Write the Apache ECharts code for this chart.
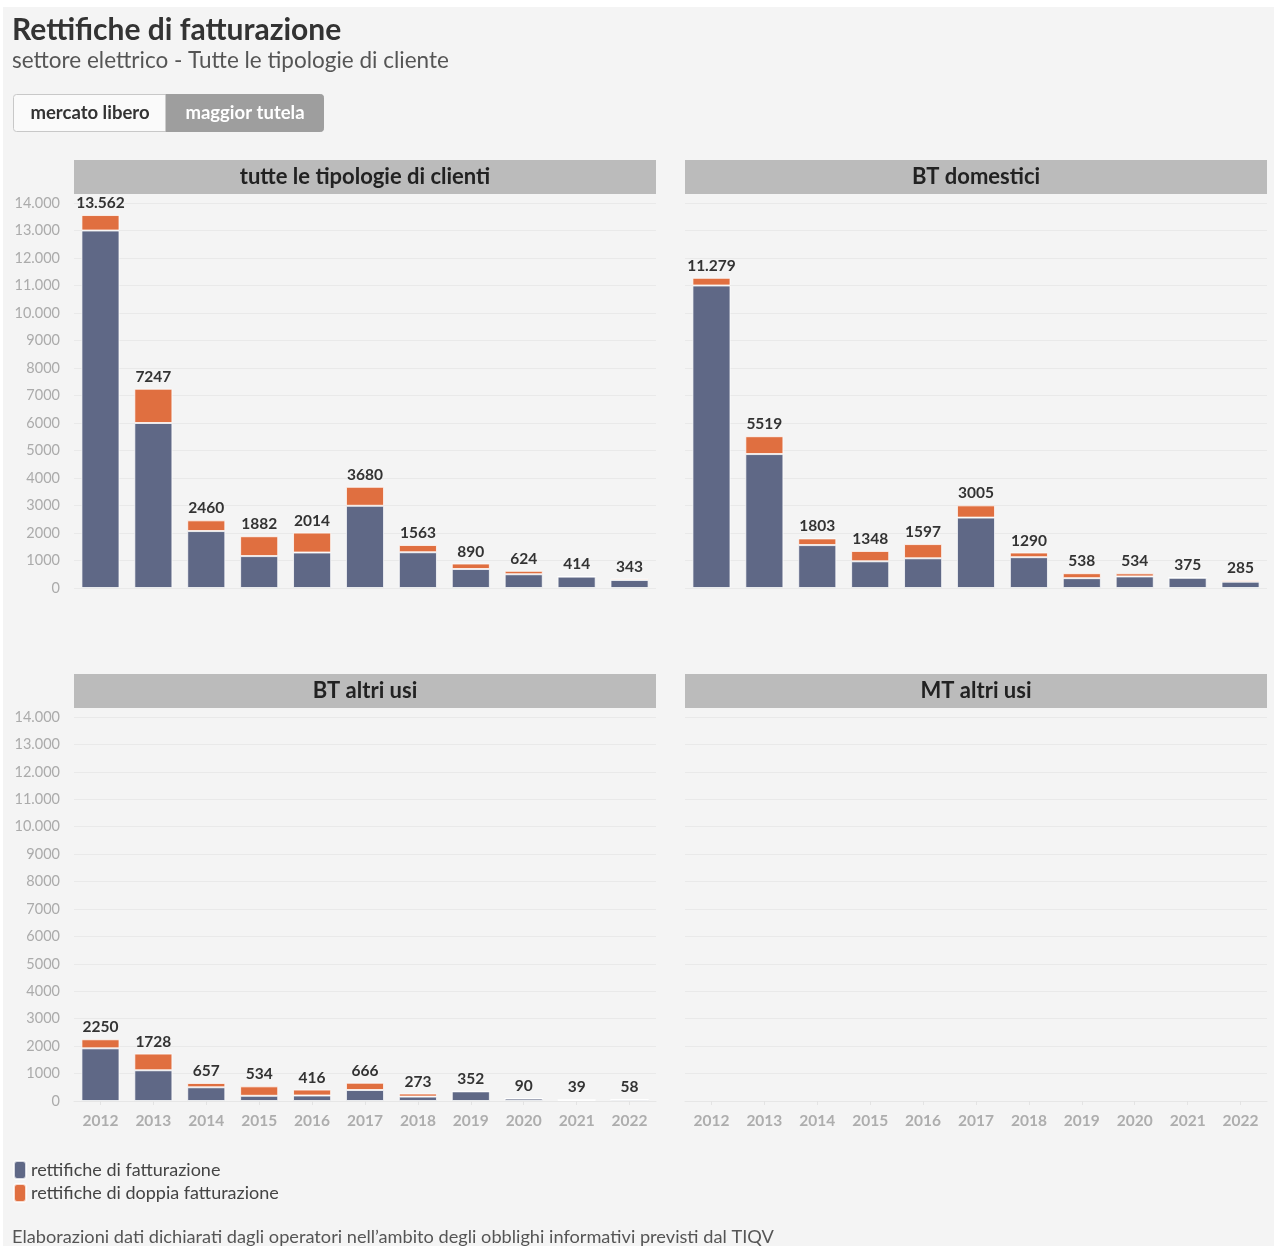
<!DOCTYPE html>
<html>
<head>
<meta charset="utf-8">
<script src="https://cdn.jsdelivr.net/npm/echarts@6/dist/echarts.min.js"></script>
<style>
  html, body { margin: 0; padding: 0; background: #fff; }
  #chart { width: 1274px; height: 1246px; }
</style>
</head>
<body>
<div id="chart"></div>
<script>
// ── Rettifiche di fatturazione - settore elettrico ──

const years = ['2012', '2013', '2014', '2015', '2016', '2017', '2018', '2019', '2020', '2021', '2022'];
const yTicks = [0, 14000, 1000];

// tutte le tipologie di clienti
const tutteFatt = [13000, 6000, 2070, 1160, 1290, 2990, 1300, 690, 500, 414, 290];
const tutteDoppia = [562, 1247, 390, 722, 724, 690, 263, 200, 124, 0, 53];
const tutteTot = [13562, 7247, 2460, 1882, 2014, 3680, 1563, 890, 624, 414, 343];

// BT domestici
const domFatt = [11000, 4870, 1560, 970, 1080, 2560, 1120, 358, 420, 375, 230];
const domDoppia = [279, 649, 243, 378, 517, 445, 170, 180, 114, 0, 55];
const domTot = [11279, 5519, 1803, 1348, 1597, 3005, 1290, 538, 534, 375, 285];

// BT altri usi
const altFatt = [1920, 1120, 500, 190, 200, 400, 160, 352, 90, 39, 58];
const altDoppia = [330, 608, 157, 344, 216, 266, 113, 0, 0, 0, 0];
const altTot = [2250, 1728, 657, 534, 416, 666, 273, 352, 90, 39, 58];

// MT altri usi (nessun dato)
const mtFatt = [];
const mtDoppia = [];
const mtTot = [];

const panelTitles = ['tutte le tipologie di clienti', 'BT domestici', 'BT altri usi', 'MT altri usi'];
const legendNames = ['rettifiche di fatturazione', 'rettifiche di doppia fatturazione'];

const FONT = 'Lato, "Noto Sans", sans-serif';
const BLUE = '#5f6886';
const ORANGE = '#e06f40';

function fmt(v) {
  const s = String(v);
  return v >= 10000 ? s.replace(/\B(?=(\d{3})+(?!\d))/g, '.') : s;
}

const panels = [
  { left: 74, top: 203, h: 385, fatt: tutteFatt, doppia: tutteDoppia, tot: tutteTot, yLab: true, xLab: false },
  { left: 685, top: 203, h: 385, fatt: domFatt, doppia: domDoppia, tot: domTot, yLab: false, xLab: false },
  { left: 74, top: 717, h: 384, fatt: altFatt, doppia: altDoppia, tot: altTot, yLab: true, xLab: true },
  { left: 685, top: 717, h: 384, fatt: mtFatt, doppia: mtDoppia, tot: mtTot, yLab: false, xLab: true },
];

const grid = [], xAxis = [], yAxis = [], series = [], graphic = [];

graphic.push({ type: 'rect', silent: true, z: -10, shape: { x: 3, y: 7, width: 1271, height: 1239 }, style: { fill: '#f4f4f4' } });

panels.forEach((p, i) => {
  grid.push({ left: p.left, top: p.top, width: 582, height: p.h });
  xAxis.push({
    type: 'category', gridIndex: i, data: years,
    axisLine: { show: p.xLab, lineStyle: { color: '#e6e6e6' } },
    axisTick: { show: p.xLab, alignWithLabel: true, length: 4, lineStyle: { color: '#e3e3e3' } },
    axisLabel: { show: p.xLab, color: '#adadad', fontSize: 15.5, fontWeight: 'bold', fontFamily: FONT, margin: 12 },
  });
  yAxis.push({
    type: 'value', gridIndex: i, min: yTicks[0], max: yTicks[1], interval: yTicks[2],
    axisLine: { show: false }, axisTick: { show: false },
    axisLabel: { show: p.yLab, color: '#ababab', fontSize: 14.5, fontFamily: FONT, margin: 14, formatter: fmt },
    splitLine: { lineStyle: { color: '#e9e9e9' } },
  });
  const tot = p.tot;
  series.push({
    name: legendNames[0], type: 'bar', stack: 's' + i, xAxisIndex: i, yAxisIndex: i,
    data: p.fatt, barCategoryGap: '28%',
    itemStyle: { color: BLUE, borderColor: 'rgba(255,255,255,0.75)', borderWidth: 1 },
  });
  series.push({
    name: legendNames[1], type: 'bar', stack: 's' + i, xAxisIndex: i, yAxisIndex: i,
    data: p.doppia, barCategoryGap: '28%',
    itemStyle: { color: ORANGE, borderColor: 'rgba(255,255,255,0.75)', borderWidth: 1 },
    label: {
      show: true, position: 'top', distance: 4, color: '#333', fontSize: 15.5, fontWeight: 'bold', fontFamily: FONT,
      formatter: d => fmt(tot[d.dataIndex]),
    },
  });
  // header
  const hy = p.top - 43;
  graphic.push({ type: 'rect', silent: true, shape: { x: p.left, y: hy, width: 582, height: 34 }, style: { fill: '#bbbbbb' } });
  graphic.push({
    type: 'text', silent: true, x: p.left + 291, y: hy + 17,
    style: { text: panelTitles[i], fill: '#222', font: 'bold 22px ' + FONT, align: 'center', verticalAlign: 'middle' },
  });
});

// title, subtitle
graphic.push({ type: 'text', silent: true, x: 12, y: 30, style: { text: 'Rettifiche di fatturazione', fill: '#333', font: 'bold 30px ' + FONT, verticalAlign: 'middle' } });
graphic.push({ type: 'text', silent: true, x: 12, y: 61, style: { text: 'settore elettrico - Tutte le tipologie di cliente', fill: '#555', font: '22.5px ' + FONT, verticalAlign: 'middle' } });

// buttons
graphic.push({ type: 'rect', silent: true, shape: { x: 13.5, y: 94.5, width: 310, height: 37, r: 3 }, style: { fill: '#fafafa', stroke: '#c8c8c8', lineWidth: 1 } });
graphic.push({ type: 'rect', silent: true, shape: { x: 166, y: 94.5, width: 157.5, height: 37, r: [0, 3, 3, 0] }, style: { fill: '#9e9e9e', stroke: '#9e9e9e', lineWidth: 1 } });
graphic.push({ type: 'text', silent: true, x: 90, y: 113, style: { text: 'mercato libero', fill: '#333', font: 'bold 18.5px ' + FONT, align: 'center', verticalAlign: 'middle' } });
graphic.push({ type: 'text', silent: true, x: 245, y: 113, style: { text: 'maggior tutela', fill: '#fff', font: 'bold 18.5px ' + FONT, align: 'center', verticalAlign: 'middle' } });

// footer
graphic.push({ type: 'text', silent: true, x: 12, y: 1237, style: { text: 'Elaborazioni dati dichiarati dagli operatori nell\u2019ambito degli obblighi informativi previsti dal TIQV', fill: '#555', font: '18.2px ' + FONT, verticalAlign: 'middle' } });

const chart = echarts.init(document.getElementById('chart'));
chart.setOption({
  backgroundColor: 'transparent',
  animation: false,
  textStyle: { fontFamily: FONT },
  grid, xAxis, yAxis, series, graphic,
  legend: {
    data: legendNames, orient: 'vertical', left: 13, top: 1160, itemGap: 3, padding: 0,
    icon: 'roundRect', itemWidth: 12, itemHeight: 18,
    textStyle: { color: '#444', fontSize: 18, fontFamily: FONT },
    selectedMode: false,
  },
  color: [BLUE, ORANGE],
});
</script>
</body>
</html>
